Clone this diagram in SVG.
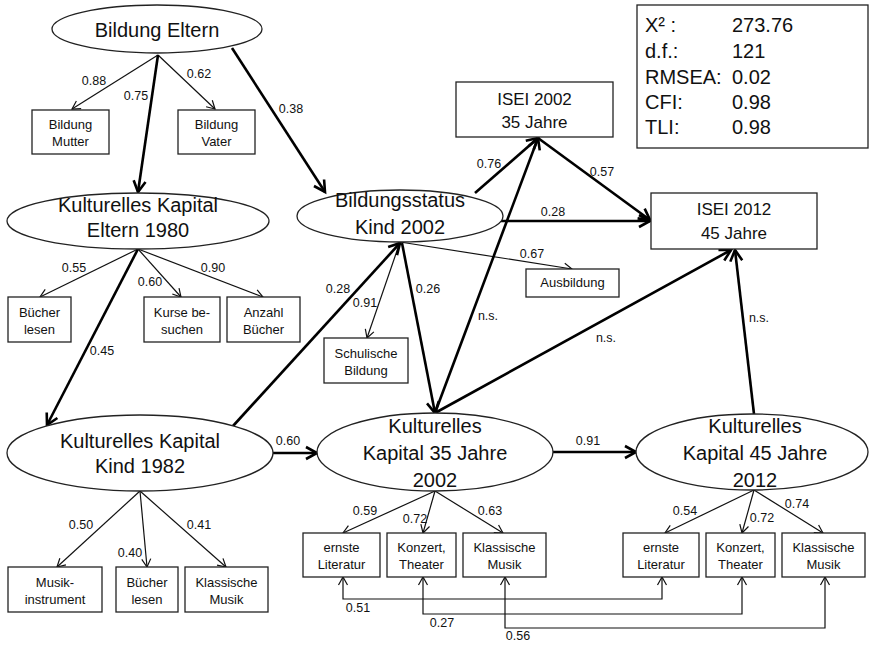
<svg xmlns="http://www.w3.org/2000/svg" width="870" height="645" viewBox="0 0 870 645">
<style>
text{font-family:"Liberation Sans",Arial,sans-serif;fill:#111}
.big{font-size:20px;text-anchor:middle}
.box{font-size:13px;text-anchor:middle}
.isei{font-size:17px;text-anchor:middle}
.lab{font-size:12.5px;text-anchor:middle}
.stat{font-size:20px}
ellipse,rect.n{fill:#fff;stroke:#222;stroke-width:1.3}
.thin{fill:none;stroke:#111;stroke-width:1.2;marker-end:url(#a1)}
.thick{fill:none;stroke:#000;stroke-width:2.6;marker-end:url(#a2)}
.cor{fill:none;stroke:#111;stroke-width:1.2;marker-start:url(#a1s);marker-end:url(#a1)}
</style>
<defs>
<marker id="a1" markerUnits="userSpaceOnUse" markerWidth="12" markerHeight="12" refX="10" refY="6" orient="auto" overflow="visible"><path d="M2,1.5 L10,6 L2,10.5" fill="none" stroke="#111" stroke-width="1.2"/></marker>
<marker id="a1s" markerUnits="userSpaceOnUse" markerWidth="12" markerHeight="12" refX="10" refY="6" orient="auto-start-reverse" overflow="visible"><path d="M2,1.5 L10,6 L2,10.5" fill="none" stroke="#111" stroke-width="1.2"/></marker>
<marker id="a2" markerUnits="userSpaceOnUse" markerWidth="16" markerHeight="16" refX="13" refY="8" orient="auto" overflow="visible"><path d="M2,2 L13,8 L2,14" fill="none" stroke="#000" stroke-width="2.6"/></marker>
</defs>
<rect width="870" height="645" fill="#fff"/>

<g id="connectors">
<line class="thin" x1="158" y1="55" x2="72" y2="109"/>
<line class="thin" x1="158" y1="55" x2="215" y2="109"/>
<line class="thin" x1="138" y1="249" x2="40" y2="297"/>
<line class="thin" x1="138" y1="249" x2="181" y2="297"/>
<line class="thin" x1="138" y1="249" x2="263" y2="297"/>
<line class="thin" x1="400" y1="242" x2="367" y2="338"/>
<line class="thin" x1="400" y1="242" x2="572" y2="269"/>
<line class="thin" x1="140" y1="491" x2="57" y2="567"/>
<line class="thin" x1="140" y1="491" x2="147" y2="567"/>
<line class="thin" x1="140" y1="491" x2="226" y2="567"/>
<line class="thin" x1="435" y1="491" x2="343" y2="533"/>
<line class="thin" x1="435" y1="491" x2="423" y2="533"/>
<line class="thin" x1="435" y1="491" x2="503" y2="533"/>
<line class="thin" x1="754" y1="490" x2="665" y2="533"/>
<line class="thin" x1="754" y1="490" x2="742" y2="533"/>
<line class="thin" x1="754" y1="490" x2="823" y2="533"/>
<path class="cor" d="M343,577 V599 H662 V577"/>
<path class="cor" d="M423,577 V614 H742 V577"/>
<path class="cor" d="M505,577 V628 H825 V577"/>
<line class="thick" x1="158" y1="55" x2="138" y2="192"/>
<line class="thick" x1="232" y1="48" x2="325" y2="192"/>
<line class="thick" x1="138" y1="249" x2="47" y2="425"/>
<line class="thick" x1="233" y1="426" x2="400" y2="243"/>
<line class="thick" x1="273" y1="453" x2="317" y2="453"/>
<line class="thick" x1="402" y1="243" x2="435" y2="413"/>
<line class="thick" x1="475" y1="193" x2="538" y2="138"/>
<line class="thick" x1="435" y1="413" x2="538" y2="138"/>
<line class="thick" x1="538" y1="138" x2="650" y2="220"/>
<line class="thick" x1="498" y1="221" x2="650" y2="221"/>
<line class="thick" x1="435" y1="413" x2="731" y2="250"/>
<line class="thick" x1="754" y1="414" x2="735" y2="250"/>
<line class="thick" x1="553" y1="452" x2="636" y2="452"/>
<g id="labels">
<text class="lab" x="94" y="85">0.88</text>
<text class="lab" x="136" y="100">0.75</text>
<text class="lab" x="199" y="78">0.62</text>
<text class="lab" x="291" y="113">0.38</text>
<text class="lab" x="74" y="272">0.55</text>
<text class="lab" x="150" y="286">0.60</text>
<text class="lab" x="213" y="272">0.90</text>
<text class="lab" x="102" y="355">0.45</text>
<text class="lab" x="338" y="293">0.28</text>
<text class="lab" x="365" y="307">0.91</text>
<text class="lab" x="428" y="293">0.26</text>
<text class="lab" x="488" y="320">n.s.</text>
<text class="lab" x="532" y="258">0.67</text>
<text class="lab" x="553" y="216">0.28</text>
<text class="lab" x="489" y="168">0.76</text>
<text class="lab" x="602" y="176">0.57</text>
<text class="lab" x="606" y="342">n.s.</text>
<text class="lab" x="759" y="322">n.s.</text>
<text class="lab" x="288" y="445">0.60</text>
<text class="lab" x="588" y="445">0.91</text>
<text class="lab" x="81" y="529">0.50</text>
<text class="lab" x="130" y="557">0.40</text>
<text class="lab" x="199" y="529">0.41</text>
<text class="lab" x="365" y="515">0.59</text>
<text class="lab" x="415" y="523">0.72</text>
<text class="lab" x="490" y="515">0.63</text>
<text class="lab" x="685" y="515">0.54</text>
<text class="lab" x="762" y="522">0.72</text>
<text class="lab" x="797" y="508">0.74</text>
<text class="lab" x="358" y="612">0.51</text>
<text class="lab" x="442" y="627">0.27</text>
<text class="lab" x="518" y="640">0.56</text>
</g>
</g>

<g id="bildung-eltern"><ellipse cx="157" cy="29" rx="105" ry="24"/><text class="big" x="157" y="37">Bildung Eltern</text></g>
<g id="bildung-mutter"><rect class="n" x="32" y="110" width="77" height="44"/><text class="box" x="70.5" y="129">Bildung</text><text class="box" x="70.5" y="146">Mutter</text></g>
<g id="bildung-vater"><rect class="n" x="178" y="110" width="77" height="44"/><text class="box" x="216.5" y="129">Bildung</text><text class="box" x="216.5" y="146">Vater</text></g>
<g id="kk-eltern"><ellipse cx="138" cy="221" rx="131" ry="28"/><text class="big" x="138" y="212">Kulturelles Kapital</text><text class="big" x="138" y="237">Eltern 1980</text></g>
<g id="buecher-lesen-e"><rect class="n" x="8" y="297" width="63" height="45"/><text class="box" x="39.5" y="316.5">Bücher</text><text class="box" x="39.5" y="333.5">lesen</text></g>
<g id="kurse"><rect class="n" x="144" y="297" width="76" height="45"/><text class="box" x="182" y="316.5">Kurse be-</text><text class="box" x="182" y="333.5">suchen</text></g>
<g id="anzahl"><rect class="n" x="227" y="297" width="73" height="45"/><text class="box" x="263.5" y="316.5">Anzahl</text><text class="box" x="263.5" y="333.5">Bücher</text></g>
<g id="bildungsstatus"><ellipse cx="400" cy="216" rx="103" ry="26"/><text class="big" x="400" y="207">Bildungsstatus</text><text class="big" x="400" y="234">Kind 2002</text></g>
<g id="schulische"><rect class="n" x="324" y="338" width="84" height="45"/><text class="box" x="366" y="357.5">Schulische</text><text class="box" x="366" y="374.5">Bildung</text></g>
<g id="ausbildung"><rect class="n" x="526" y="269" width="93" height="28"/><text class="box" x="572.5" y="287">Ausbildung</text></g>
<g id="isei2002"><rect class="n" x="456" y="82" width="157" height="55"/><text class="isei" x="534.5" y="105">ISEI 2002</text><text class="isei" x="534.5" y="128">35 Jahre</text></g>
<g id="isei2012"><rect class="n" x="651" y="193" width="166" height="56"/><text class="isei" x="734" y="215">ISEI 2012</text><text class="isei" x="734" y="239">45 Jahre</text></g>
<g id="fit"><rect class="n" x="637" y="5" width="231" height="143"/>
<text class="stat" x="645" y="32">X² :</text><text class="stat" x="732" y="32">273.76</text>
<text class="stat" x="645" y="58">d.f.:</text><text class="stat" x="732" y="58">121</text>
<text class="stat" x="645" y="84">RMSEA:</text><text class="stat" x="732" y="84">0.02</text>
<text class="stat" x="645" y="109">CFI:</text><text class="stat" x="732" y="109">0.98</text>
<text class="stat" x="645" y="134">TLI:</text><text class="stat" x="732" y="134">0.98</text></g>
<g id="kk-kind"><ellipse cx="140" cy="453" rx="133" ry="38"/><text class="big" x="140" y="448">Kulturelles Kapital</text><text class="big" x="140" y="473">Kind 1982</text></g>
<g id="musik-instr"><rect class="n" x="8" y="567" width="94" height="45"/><text class="box" x="55" y="586.5">Musik-</text><text class="box" x="55" y="603.5">instrument</text></g>
<g id="buecher-lesen-k"><rect class="n" x="116" y="567" width="62" height="45"/><text class="box" x="147" y="586.5">Bücher</text><text class="box" x="147" y="603.5">lesen</text></g>
<g id="klassisch-k"><rect class="n" x="185" y="567" width="83" height="45"/><text class="box" x="226.5" y="586.5">Klassische</text><text class="box" x="226.5" y="603.5">Musik</text></g>
<g id="kk35"><ellipse cx="435" cy="452" rx="118" ry="39"/><text class="big" x="435" y="433">Kulturelles</text><text class="big" x="435" y="460">Kapital 35 Jahre</text><text class="big" x="435" y="487">2002</text></g>
<g id="kk45"><ellipse cx="752" cy="452" rx="116" ry="38"/><text class="big" x="755" y="433">Kulturelles</text><text class="big" x="755" y="460">Kapital 45 Jahre</text><text class="big" x="755" y="487">2012</text></g>
<g id="ernste35"><rect class="n" x="303" y="533" width="77" height="44"/><text class="box" x="341.5" y="552">ernste</text><text class="box" x="341.5" y="569">Literatur</text></g>
<g id="konzert35"><rect class="n" x="387" y="533" width="69" height="44"/><text class="box" x="421.5" y="552">Konzert,</text><text class="box" x="421.5" y="569">Theater</text></g>
<g id="klassisch35"><rect class="n" x="463" y="533" width="83" height="44"/><text class="box" x="504.5" y="552">Klassische</text><text class="box" x="504.5" y="569">Musik</text></g>
<g id="ernste45"><rect class="n" x="623" y="533" width="76" height="44"/><text class="box" x="661" y="552">ernste</text><text class="box" x="661" y="569">Literatur</text></g>
<g id="konzert45"><rect class="n" x="706" y="533" width="69" height="44"/><text class="box" x="740.5" y="552">Konzert,</text><text class="box" x="740.5" y="569">Theater</text></g>
<g id="klassisch45"><rect class="n" x="782" y="533" width="83" height="44"/><text class="box" x="823.5" y="552">Klassische</text><text class="box" x="823.5" y="569">Musik</text></g>
</svg>
